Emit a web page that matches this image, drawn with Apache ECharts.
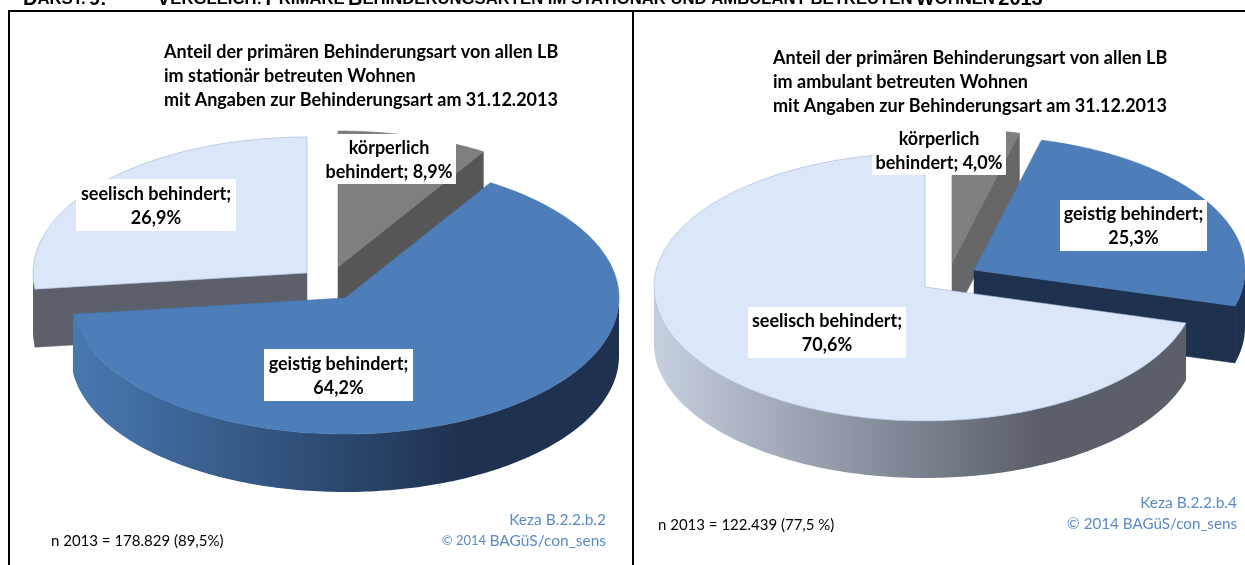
<!DOCTYPE html>
<html><head><meta charset="utf-8">
<style>html,body{margin:0;padding:0;background:#fff;overflow:hidden}#c{width:1245px;height:565px}</style>
<script src="https://cdn.jsdelivr.net/npm/echarts@6/dist/echarts.min.js"></script>
</head><body><div id="c"></div>
<script>
// ---- data ----
const categories = ['körperlich behindert', 'geistig behindert', 'seelisch behindert'];
const stationaerValues = [8.9, 64.2, 26.9];
const ambulantValues = [4.0, 25.3, 70.6];
const stationaerTitle = 'Anteil der primären Behinderungsart von allen LB\nim stationär betreuten Wohnen\nmit Angaben zur Behinderungsart am 31.12.2013';
const ambulantTitle = 'Anteil der primären Behinderungsart von allen LB\nim ambulant betreuten Wohnen\nmit Angaben zur Behinderungsart am 31.12.2013';
const stationaerNote = 'n 2013 = 178.829 (89,5%)';
const ambulantNote = 'n 2013 = 122.439 (77,5 %)';

// ---- layout & style ----
const FONT = 'Lato';
const BLUE = '#5a8ac6';
const panels = [
  { values: stationaerValues, rx: 274, ry: 136, depth: 58, order: [2, 0, 1],
    centers: [[338, 267], [345, 298], [307, 273]],
    boxes: [[322, 134, 134, 50], [264, 349, 149, 52], [76, 179, 160, 52]],
    breaks: [1, 2, 2] },
  { values: ambulantValues, rx: 271, ry: 134, depth: 57, order: [0, 1, 2],
    centers: [[952, 263], [974, 270], [925, 287]],
    boxes: [[872, 126, 134, 49], [1060, 200, 147, 51], [748, 307, 158, 51]],
    breaks: [1, 2, 2] }
];
const grad = (x0, x1, a, b) => new echarts.graphic.LinearGradient(x0, 0, x1, 0, [{offset: 0, color: a}, {offset: 0.72, color: b}, {offset: 1, color: b}], true);
const paints = [
  [ { top: '#7f7f7f', line: '#777777', wall: '#565656' },
    { top: '#4d7eb9', line: '#4473ab', wall: '#1e314e', rim: [74, 620, '#4878b0', '#1e314e'] },
    { top: '#dbe6f9', line: '#a0b1d0', wall: '#5b606b', rim: [33, 40, '#5b606b', '#5b606b'] } ],
  [ { top: '#808080', line: '#777777', wall: '#666666' },
    { top: '#4d7eb9', line: '#4473ab', wall: '#1e314e', rim: [1180, 1245, '#1e314e', '#1e314e'] },
    { top: '#dbe6f9', line: '#a0b1d0', wall: '#5b606b', rim: [654, 1186, '#c6cfe0', '#5a5f6a'] } ]
];

function slicesOf(panelIndex) {
  const p = panels[panelIndex];
  const total = p.values.reduce((s, v) => s + v, 0);
  let acc = 0;
  const spans = p.values.map(v => { const a = acc; acc += v; return [a / total * 360, acc / total * 360]; });
  return p.order.map(i => ({ name: categories[i], value: [p.values[i], spans[i][0], spans[i][1], i, panelIndex] }));
}
const pt = (c, p, deg, dy) => {
  const r = deg * Math.PI / 180;
  return [c[0] + p.rx * Math.sin(r), c[1] - p.ry * Math.cos(r) + (dy || 0)];
};
const arc = (c, p, a, b, dy) => {
  const out = [], n = Math.max(2, Math.ceil(Math.abs(b - a)));
  for (let k = 0; k <= n; k++) out.push(pt(c, p, a + (b - a) * k / n, dy));
  return out;
};
function renderSlice(params, api) {
  const pct = api.value(0), a = api.value(1), b = api.value(2), i = api.value(3), pi = api.value(4);
  const p = panels[pi], c = p.centers[i], paint = paints[pi][i], kids = [];
  const wall = (deg) => {
    const e = pt(c, p, deg);
    kids.push({ type: 'polygon', shape: { points: [c, e, [e[0], e[1] + p.depth], [c[0], c[1] + p.depth]] },
      style: { fill: paint.wall, stroke: paint.wall, lineWidth: 0.5 } });
  };
  if (Math.sin(b * Math.PI / 180) > 1e-6) wall(b);
  if (Math.sin(a * Math.PI / 180) < -1e-6) wall(a);
  const ra = Math.max(a, 90), rb = Math.min(b, 270);
  if (rb > ra) {
    const r = paint.rim;
    kids.push({ type: 'polygon', shape: { points: arc(c, p, ra, rb, 0).concat(arc(c, p, rb, ra, p.depth)) },
      style: { fill: grad(r[0], r[1], r[2], r[3]), stroke: null } });
  }
  kids.push({ type: 'polygon', shape: { points: [c].concat(arc(c, p, a, b, 0)) },
    style: { fill: paint.top, stroke: paint.line, lineWidth: 0.6 } });
  const box = p.boxes[i];
  kids.push({ type: 'rect', z2: 100, shape: { x: box[0], y: box[1], width: box[2], height: box[3] }, style: { fill: '#fff' } });
  const words = categories[i].split(' ');
  const num = pct.toFixed(1).replace('.', ',') + '%';
  const txt = p.breaks[i] === 1 ? words[0] + '\n' + words[1] + '; ' + num : categories[i] + ';\n' + num;
  kids.push({ type: 'text', z2: 101, style: { text: txt, x: box[0] + box[2] / 2, y: box[1] + box[3] / 2 + 1, align: 'center', verticalAlign: 'middle',
    fontFamily: FONT, fontWeight: 'bold', fontSize: 18, lineHeight: 24, fill: '#000' } });
  return { type: 'group', children: kids };
}
const series = panels.map((p, i) => ({ type: 'custom', coordinateSystem: 'none', name: 'panel' + i, silent: true, clip: false,
  dimensions: ['value', 'start', 'end', 'cat', 'panel'], data: slicesOf(i), renderItem: renderSlice, animation: false }));

const smallHeadRich = { b: { fontSize: 20, fontWeight: 'bold', fontFamily: 'Liberation Sans', fill: '#000' }, s: { fontSize: 16.7, fontWeight: 'bold', fontFamily: 'Liberation Sans', fill: '#000' } };
const note = (text, x, y, align, fill, size) => ({ type: 'text', style: { text, x, y, align: align, verticalAlign: 'middle', fontFamily: FONT, fontSize: size || 15, fill: fill || '#000' } });
const line = (x1, y1, x2, y2) => ({ type: 'line', shape: { x1, y1, x2, y2 }, style: { stroke: '#000', lineWidth: 2 } });
const titleStyle = { fontFamily: FONT, fontWeight: 'bold', fontSize: 18, lineHeight: 24, color: '#000' };

const chart = echarts.init(document.getElementById('c'), null, { renderer: 'canvas', width: 1245, height: 565 });
chart.setOption({
  backgroundColor: '#fff', animation: false,
  title: [
    { text: stationaerTitle, left: 164, top: 40, padding: 0, textStyle: titleStyle },
    { text: ambulantTitle, left: 773, top: 46, padding: 0, textStyle: titleStyle }
  ],
  series,
  graphic: [
    line(9, 10, 9, 565), line(8, 11, 1245, 11), line(633, 10, 633, 565),
    { type: 'text', style: { x: 23, y: -11, rich: smallHeadRich, text: '{b|D}{s|ARST.} {b|9:}' } },
    { type: 'text', style: { x: 157, y: -11, rich: smallHeadRich, text: '{b|V}{s|ERGLEICH:} {b|P}{s|RIMÄRE} {b|B}{s|EHINDERUNGSARTEN IM STATIONÄR UND AMBULANT BETREUTEN} {b|W}{s|OHNEN} {b|2013}' } },
    note(stationaerNote, 51, 541),
    note('Keza B.2.2.b.2', 606, 520, 'right', BLUE, 15.5),
    { type: 'text', style: { x: 606, y: 541, align: 'right', verticalAlign: 'middle', rich: { a: { fontSize: 13, fontFamily: FONT, fill: BLUE }, b: { fontSize: 15.5, fontFamily: FONT, fill: BLUE } }, text: '{a|© 2014} {b|BAGüS/con_sens}' } },
    note(ambulantNote, 658, 525),
    note('Keza B.2.2.b.4', 1237, 503, 'right', BLUE, 15.5),
    note('© 2014 BAGüS/con_sens', 1237, 524, 'right', BLUE, 15.2)
  ]
});
</script></body></html>
